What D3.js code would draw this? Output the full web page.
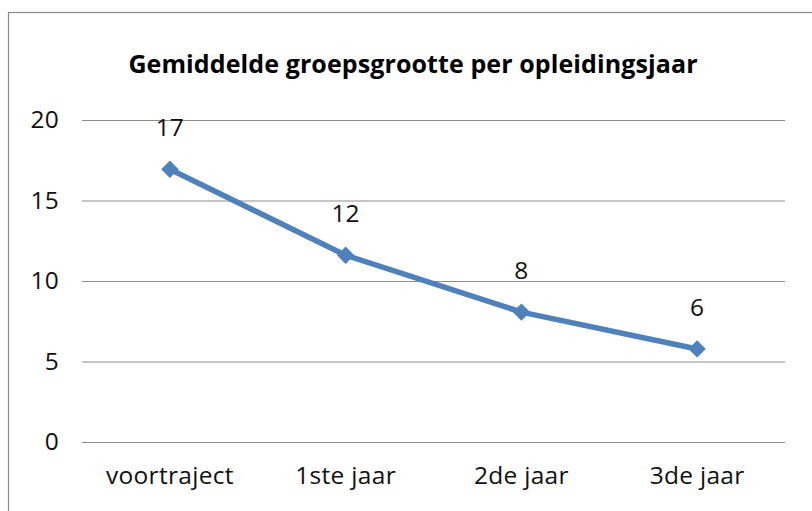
<!DOCTYPE html>
<html><head><meta charset="utf-8">
<script src="https://cdn.jsdelivr.net/npm/d3@7"></script>
<style>html,body{margin:0;padding:0;background:#fff;}svg{display:block;}</style>
</head><body>
<svg id="c" width="812" height="511"></svg>
<script>
const categories = ["voortraject", "1ste jaar", "2de jaar", "3de jaar"];
const values = [16.94, 11.6, 8.07, 5.78];
const yTicks = [0, 5, 10, 15, 20];
const title = "Gemiddelde groepsgrootte per opleidingsjaar";

const svg = d3.select("#c");
const font = "'Open Sans', sans-serif";
svg.append("rect").attr("x", 8.5).attr("y", 12.5).attr("width", 820).attr("height", 520)
  .attr("fill", "#fff").attr("stroke", "#8c8c8c").attr("stroke-width", 1.2);

const x = d3.scaleBand().domain(categories).range([82, 785]);
const y = d3.scaleLinear().domain([0, 20]).range([442, 120]);

const gy = svg.append("g").attr("transform", "translate(82,0)")
  .call(d3.axisLeft(y).tickValues(yTicks).tickSize(-703).tickPadding(23));
gy.select(".domain").remove();
gy.selectAll("line").attr("stroke", "#8e8e8e").attr("stroke-width", 1.2);
gy.selectAll("text").attr("font-family", font).attr("font-size", 24.5).attr("letter-spacing", 0.3).attr("fill", "#111");

const gx = svg.append("g").attr("transform", "translate(0,442)")
  .call(d3.axisBottom(x).tickSize(0).tickPadding(25));
gx.select(".domain").remove();
gx.selectAll("text").attr("font-family", font).attr("font-size", 24.5).attr("letter-spacing", 0.3).attr("fill", "#111");

svg.append("text").attr("x", 413).attr("y", 73).attr("text-anchor", "middle")
  .attr("font-family", font).attr("font-weight", "bold").attr("font-size", 25).attr("letter-spacing", 0.1).attr("fill", "#000")
  .text(title);

const line = d3.line().x((d, i) => x(categories[i]) + x.bandwidth() / 2).y(d => y(d));
svg.append("path").datum(values).attr("d", line).attr("fill", "none")
  .attr("stroke", "#4F81BD").attr("stroke-width", 5.5).attr("stroke-linejoin", "round");

const sym = d3.symbol().type(d3.symbolSquare).size(150);
svg.selectAll(".pt").data(values).join("path").attr("class", "pt")
  .attr("transform", (d, i) => `translate(${x(categories[i]) + x.bandwidth() / 2},${y(d)}) rotate(45)`)
  .attr("d", sym).attr("fill", "#4F81BD");

svg.selectAll(".lbl").data(values).join("text").attr("class", "lbl")
  .attr("x", (d, i) => x(categories[i]) + x.bandwidth() / 2)
  .attr("y", d => y(d) - 33)
  .attr("text-anchor", "middle").attr("font-family", font).attr("font-size", 24.5).attr("fill", "#111")
  .text(d => d3.format(".0f")(d));
</script>
</body></html>
